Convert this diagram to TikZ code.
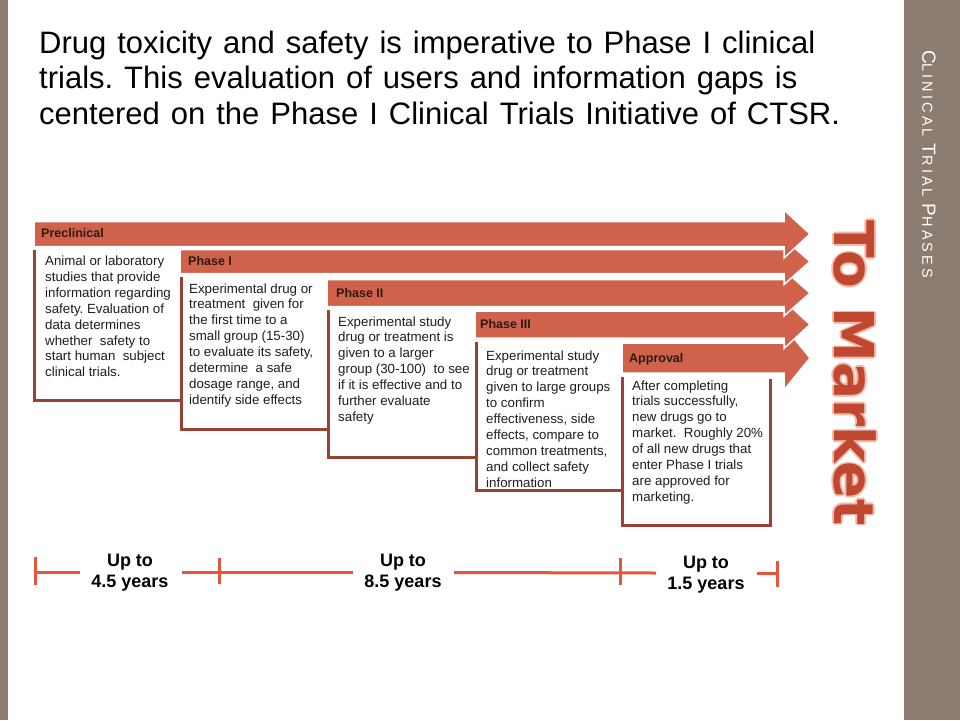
\documentclass[tikz,border=0pt]{standalone}
\usepackage{fontspec}
\setmainfont{Liberation Sans}
\newfontfamily\sidefont{Liberation Sans}[LetterSpace=21]
\newfontfamily\mktfont{DejaVu Sans}
\definecolor{arrowc}{HTML}{D0624C}
\definecolor{boxc}{HTML}{984233}
\definecolor{linec}{HTML}{E8553A}
\definecolor{sidec}{HTML}{8C7D72}
\definecolor{mktc}{HTML}{C04830}
\definecolor{mkto}{HTML}{F5B8A8}
\definecolor{labc}{HTML}{2E1A14}
\definecolor{txtc}{HTML}{1E1E1E}
\newcommand{\pharrow}[4]{%
  \filldraw[arrowc, draw=white, line width=1.5pt, line join=miter]
    (#1,{#2-#3}) -- (784,{#2-#3}) -- (784,{#2-#4}) -- (810,#2) --
    (784,{#2+#4}) -- (784,{#2+#3}) -- (#1,{#2+#3}) -- cycle;}
\tikzset{
  boxborder/.style={boxc, line width=3pt, line cap=rect},
  boxtext/.style={anchor=base west, inner sep=0pt, text=txtc,
    font=\fontsize{13.3}{15.9}\selectfont},
  phlabel/.style={anchor=base west, inner sep=0pt, text=labc,
    font=\bfseries\fontsize{12.5}{15}\selectfont},
  tline/.style={linec, line width=3pt},
  yrtext/.style={anchor=base, inner sep=0pt, text=black,
    font=\bfseries\fontsize{18}{21}\selectfont},
  mkt/.style={rotate=-90, inner sep=0pt,
    font=\mktfont\bfseries\fontsize{55}{55}\selectfont}
}
\frenchspacing
\begin{document}
\begin{tikzpicture}[x=1pt,y=-1pt]
\useasboundingbox (0,0) rectangle (960,720);
\fill[white] (0,0) rectangle (960,720);
% side strips
\fill[sidec] (0,0) rectangle (8,720);
\fill[sidec] (904,0) rectangle (960,720);
\node[rotate=-90, inner sep=0pt, text=white] (side) at (929,164)
  {\sidefont\fontsize{19}{19}\selectfont C\fontsize{14.5}{14.5}\selectfont LINICAL
   \fontsize{19}{19}\selectfont T\fontsize{14.5}{14.5}\selectfont RIAL
   \fontsize{19}{19}\selectfont P\fontsize{14.5}{14.5}\selectfont HASES};
% title
\node[anchor=base west, inner sep=0pt, text=black,
  font=\fontsize{31}{35.5}\selectfont] (title) at (39,53)
  {\parbox[t]{880pt}{\raggedright\spaceskip=11pt\xspaceskip=11pt
   Drug toxicity and safety is imperative to Phase I clinical\\
   trials. This evaluation of users and information gaps is\\
   centered on the Phase I Clinical Trials Initiative of CTSR.}};
% boxes
\fill[white] (34,250) rectangle (180,400);
\draw[boxborder] (34,251) -- (34,400) -- (180,400);
\fill[white] (181,277) rectangle (327,429);
\draw[boxborder] (181,278) -- (181,429) -- (327,429);
\fill[white] (328,310) rectangle (475,457);
\draw[boxborder] (328,311) -- (328,457) -- (475,457);
\fill[white] (476,342) rectangle (622,490);
\draw[boxborder] (476,343) -- (476,490) -- (622,490);
\fill[white] (622,377) rectangle (770,525);
\draw[boxborder] (622,378) -- (622,525) -- (770,525) -- (770,380);
% arrows (later phases underneath)
\pharrow{622}{358}{15}{32}
\pharrow{475}{324.5}{13.5}{24}
\pharrow{327}{293}{13.5}{23}
\pharrow{180}{261.5}{12}{23}
\pharrow{34}{234}{12.5}{24}
% labels
\node[phlabel] (lpre) at (41,237) {Preclinical};
\node[phlabel] (lp1) at (188,265) {Phase I};
\node[phlabel] (lp2) at (336,297) {Phase II};
\node[phlabel] (lp3) at (480,328) {Phase III};
\node[phlabel] (lapp) at (629,362) {Approval};
% box texts
\node[boxtext] (tpre) at (45,265.5) {\parbox[t]{140pt}{\raggedright
  Animal or laboratory\\ studies that provide\\ information regarding\\
  safety. Evaluation of\\ data determines\\ whether\ \ safety to\\
  start human\ \ subject\\ clinical trials.}};
\node[boxtext] (tp1) at (189,293) {\parbox[t]{140pt}{\raggedright
  Experimental drug or\\ treatment\ \ given for\\ the first time to a\\
  small group (15-30)\\ to evaluate its safety,\\ determine\ \ a safe\\
  dosage range, and\\ identify side effects}};
\node[boxtext] (tp2) at (338,326) {\parbox[t]{140pt}{\raggedright
  Experimental study\\ drug or treatment is\\ given to a larger\\
  group (30-100)\ \ to see\\ if it is effective and to\\ further evaluate\\
  safety}};
\node[boxtext] (tp3) at (486,360) {\parbox[t]{140pt}{\raggedright
  Experimental study\\ drug or treatment\\ given to large groups\\
  to confirm\\ effectiveness, side\\ effects, compare to\\
  common treatments,\\ and collect safety\\ information}};
\node[boxtext] (tapp) at (632,390) {\parbox[t]{140pt}{\raggedright
  After completing\\ trials successfully,\\ new drugs go to\\
  market.\ \ Roughly 20\%\\ of all new drugs that\\ enter Phase I trials\\
  are approved for\\ marketing.}};
% To Market
\foreach \dx/\dy [count=\i] in {1.6/0,-1.6/0,0/1.6,0/-1.6,1.1/1.1,-1.1/1.1,1.1/-1.1,-1.1/-1.1}
  \node[mkt, text=mkto] (mko\i) at ({855+\dx},{373+\dy}) {To Market};
\node[mkt, text=mktc] (mkt) at (855,373) {To Market};
% timeline
\coordinate (a0) at (35,572);
\coordinate (a1) at (80,572);
\coordinate (a0t) at (35,557);
\coordinate (a0b) at (35,585);
\coordinate (b0) at (182,572);
\coordinate (b1t) at (219,558);
\coordinate (b1b) at (219,584);
\coordinate (b2) at (353,572);
\coordinate (c0) at (454,572.5);
\coordinate (c1t) at (620,558);
\coordinate (c1b) at (620,585);
\coordinate (c2) at (656,573);
\coordinate (d0) at (757,573);
\coordinate (d1) at (777,573);
\coordinate (d1t) at (777,561);
\coordinate (d1b) at (777,587);
\draw[tline] (a0) -- (a1);
\draw[tline] (a0t) -- (a0b);
\draw[tline] (b0) -- (b2);
\draw[tline] (b1t) -- (b1b);
\draw[tline] (c0) -- (c2);
\draw[tline] (c1t) -- (c1b);
\draw[tline] (d0) -- (d1);
\draw[tline] (d1t) -- (d1b);
\node[yrtext] (y1) at (130,566) {\parbox[t]{100pt}{\centering Up to\\ 4.5 years}};
\node[yrtext] (y2) at (403,566) {\parbox[t]{100pt}{\centering Up to\\ 8.5 years}};
\node[yrtext] (y3) at (706,568) {\parbox[t]{100pt}{\centering Up to\\ 1.5 years}};
\end{tikzpicture}
\end{document}
